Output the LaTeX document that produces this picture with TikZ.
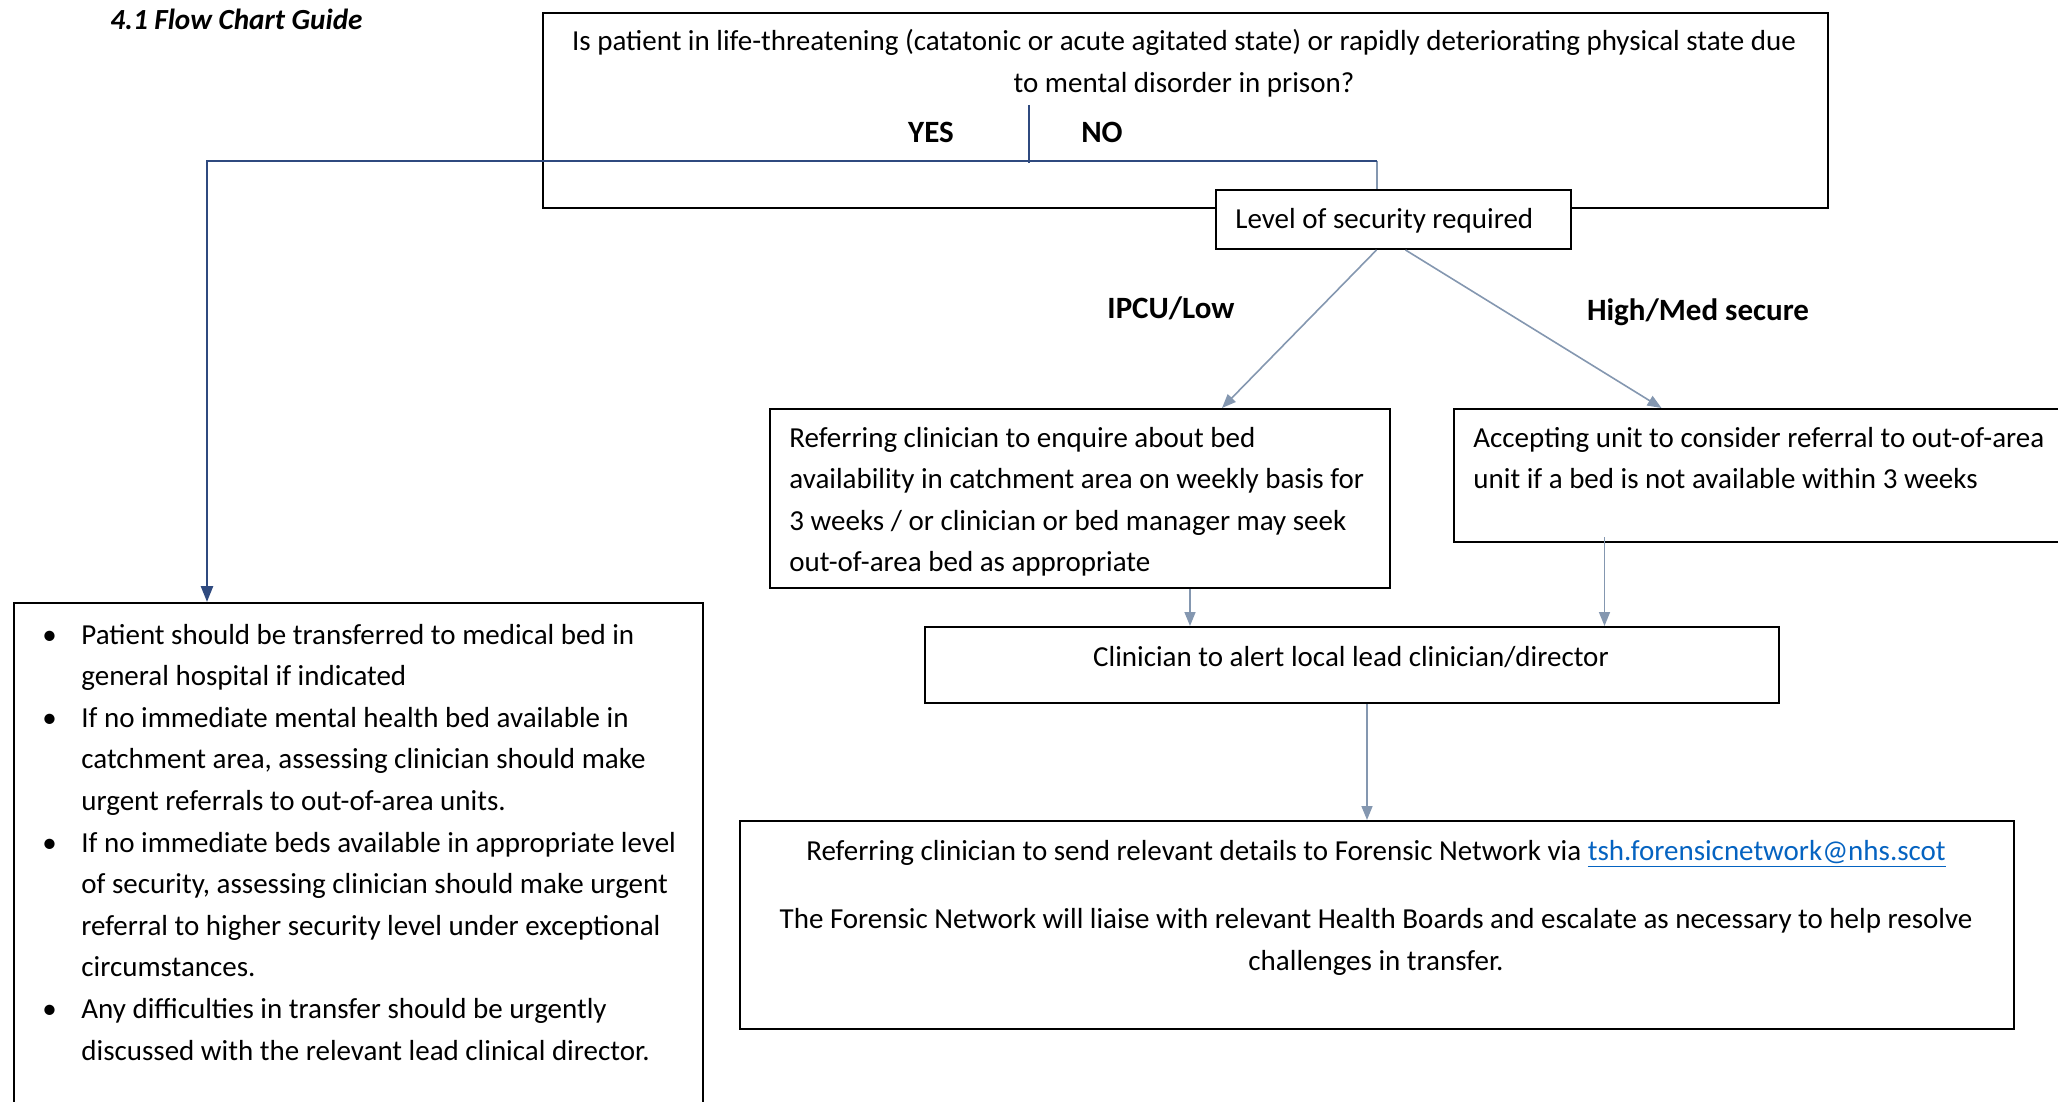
\documentclass[tikz,border=0pt]{standalone}
\usepackage{fontspec}
\setmainfont{Carlito}
\usetikzlibrary{arrows.meta,calc}
\newlength\px \setlength\px{0.5pt}
\definecolor{navy}{HTML}{2F4A7F}
\definecolor{slate}{HTML}{8497B0}
\definecolor{linkblue}{HTML}{0563C1}
\tikzset{
 boxnode/.style={draw=black, line width=1pt, fill=white, inner sep=0pt, anchor=north west},
 txt/.style={inner sep=0pt, font=\fontsize{14.5pt}{20.75pt}\selectfont, align=left},
 lbl/.style={inner sep=0pt, font=\fontsize{15.5pt}{18pt}\selectfont\bfseries, anchor=base},
 navyline/.style={draw=navy, line width=1.3pt},
 slatearrow/.style={draw=slate, line width=0.8pt, -{Triangle[length=7pt,width=5.5pt]}},
}
\begin{document}
\begin{tikzpicture}[x=0.5pt,y=-0.5pt]
\useasboundingbox (0,0) rectangle (2058,1102);
% title
\node[inner sep=0pt, anchor=base west, font=\fontsize{14.6pt}{17pt}\selectfont\bfseries\itshape] (title) at (110,30) {4.1 Flow Chart Guide};
% boxes
\node[boxnode, minimum width=1285\px, minimum height=195\px] (q) at (542,12) {};
\node[boxnode, minimum width=355\px, minimum height=59\px] (lvl) at (1215,189) {};
\node[boxnode, minimum width=620\px, minimum height=179\px] (ref) at (769,408) {};
\node[boxnode, minimum width=617\px, minimum height=133\px] (acc) at (1453,408) {};
\node[boxnode, minimum width=854\px, minimum height=76\px] (clin) at (924,626) {};
\node[boxnode, minimum width=1274\px, minimum height=208\px] (fin) at (739,820) {};
\node[boxnode, minimum width=689\px, minimum height=513\px] (bul) at (13,602) {};
% texts (base anchor = baseline of last line)
\node[txt, align=center, anchor=base, font=\fontsize{14.5pt}{21pt}\selectfont] (qt) at (1184,93) {Is patient in life-threatening (catatonic or acute agitated state) or rapidly deteriorating physical state due\\to mental disorder in prison?};
\node[lbl] (yes) at (931,143) {YES};
\node[lbl] (no) at (1102,143) {NO};
\node[txt, anchor=base west] (lvlt) at (1235,228) {Level of security required};
\node[lbl] (ipcu) at (1171,318) {IPCU/Low};
\node[lbl] (high) at (1698,320) {High/Med secure};
\node[txt, anchor=base west] (reft) at (789,571.5) {Referring clinician to enquire about bed\\availability in catchment area on weekly basis for\\3 weeks / or clinician or bed manager may seek\\out-of-area bed as appropriate};
\node[txt, anchor=base west] (acct) at (1473,488.5) {Accepting unit to consider referral to out-of-area\\unit if a bed is not available within 3 weeks};
\node[txt, align=center, anchor=base] (clint) at (1351,666) {Clinician to alert local lead clinician/director};
\node[txt, align=center, anchor=base] (fin1) at (1376,860) {Referring clinician to send relevant details to Forensic Network via \textcolor{linkblue}{\underline{tsh.forensicnetwork@nhs.scot}}};
\node[txt, align=center, anchor=base] (fin2) at (1376,970) {The Forensic Network will liaise with relevant Health Boards and escalate as necessary to help resolve\\challenges in transfer.};
\node[txt, anchor=base west, font=\fontsize{14.5pt}{20.8pt}\selectfont] (bult) at (42,1060) {\makebox[39\px][l]{\textbullet}Patient should be transferred to medical bed in\\
\hspace*{39\px}general hospital if indicated\\
\makebox[39\px][l]{\textbullet}If no immediate mental health bed available in\\
\hspace*{39\px}catchment area, assessing clinician should make\\
\hspace*{39\px}urgent referrals to out-of-area units.\\
\makebox[39\px][l]{\textbullet}If no immediate beds available in appropriate level\\
\hspace*{39\px}of security, assessing clinician should make urgent\\
\hspace*{39\px}referral to higher security level under exceptional\\
\hspace*{39\px}circumstances.\\
\makebox[39\px][l]{\textbullet}Any difficulties in transfer should be urgently\\
\hspace*{39\px}discussed with the relevant lead clinical director.};
% connectors
\coordinate (turn) at (1377,161);
\coordinate (turnL) at (207,161);
\coordinate (divtop) at (1029,105);
\coordinate (divbot) at (1029,163);
\draw[draw=navy, line width=0.6pt] (divtop) -- (divbot);
\draw[draw=slate, line width=0.8pt] (turn) -- (turn |- lvl.north);
\draw[navyline, -{Triangle[length=8pt,width=6pt]}] (turn) -- (turnL) -- (turnL |- bul.north);
\draw[slatearrow] ([xshift=-17\px]lvl.south) -- ([xshift=142\px]ref.north);
\draw[slatearrow] ([xshift=12\px]lvl.south) -- ([xshift=-101\px]acc.north);
\draw[slatearrow] ([xshift=110\px]ref.south) -- ([xshift=110\px]ref.south |- clin.north);
\draw[slatearrow] ([xshift=-158\px,yshift=3pt]acc.south) -- ([xshift=-158\px]acc.south |- clin.north);
\draw[slatearrow] ([xshift=15\px]clin.south) -- ([xshift=15\px]clin.south |- fin.north);
\end{tikzpicture}
\end{document}
